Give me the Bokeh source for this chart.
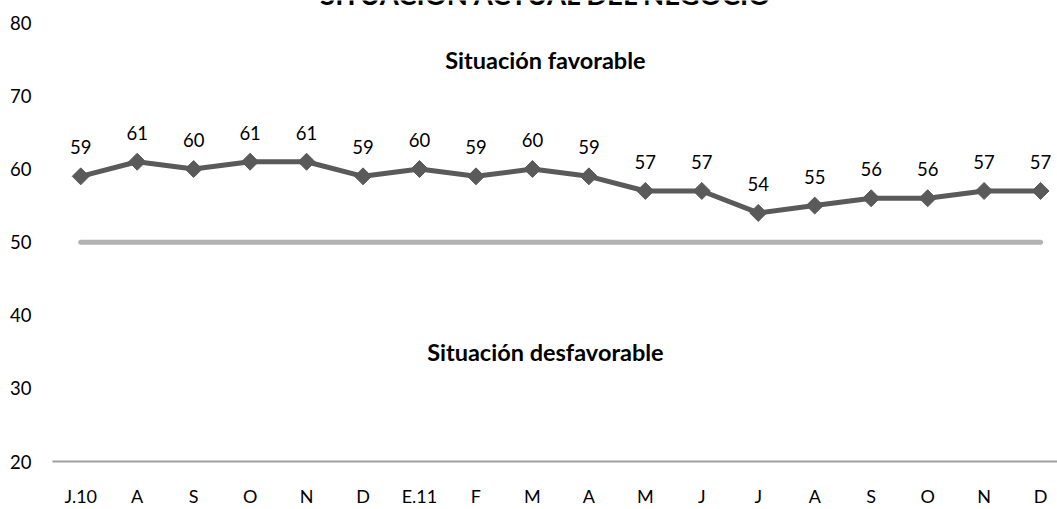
from bokeh.plotting import figure
from bokeh.models import FixedTicker, Label, Range1d
from bokeh.core.properties import value
from bokeh.embed import file_html
from bokeh.resources import INLINE
import math

months = ["J.10", "A", "S", "O", "N", "D", "E.11", "F", "M", "A", "M", "J", "J", "A", "S", "O", "N", "D"]
values = [59, 61, 60, 61, 61, 59, 60, 59, 60, 59, 57, 57, 54, 55, 56, 56, 57, 57]
threshold = 50
y_ticks = [20, 30, 40, 50, 60, 70, 80]
title_text = "SITUACIÓN ACTUAL DEL NEGOCIO"
upper_text = "Situación favorable"
lower_text = "Situación desfavorable"

FONT = "Lato"
xs = list(range(len(months)))

# frame reaches the canvas top so the (cut-off) title can be drawn inside it
p = figure(width=1057, height=509, output_backend="svg", toolbar_location=None,
           x_range=Range1d(-0.5, 17.30), y_range=Range1d(20, 83.05),
           min_border_left=52, min_border_right=0, min_border_top=0, min_border_bottom=44)
p.outline_line_color = None
p.grid.grid_line_color = None
p.background_fill_color = "white"
p.border_fill_color = "white"

# x axis
p.xaxis.ticker = FixedTicker(ticks=xs)
p.xaxis.major_label_overrides = {i: m for i, m in enumerate(months)}
p.xaxis.major_tick_line_color = None
p.xaxis.minor_tick_line_color = None
p.xaxis.axis_line_color = "#a0a0a0"
p.xaxis.axis_line_width = 2
p.xaxis.major_label_text_font = FONT
p.xaxis.major_label_text_font_size = "18px"
p.xaxis.major_label_text_color = "#000000"
p.xaxis.major_label_standoff = 17

# y axis
p.yaxis.ticker = FixedTicker(ticks=y_ticks)
p.yaxis.axis_line_color = None
p.yaxis.major_tick_line_color = None
p.yaxis.minor_tick_line_color = None
p.yaxis.major_label_text_font = FONT
p.yaxis.major_label_text_font_size = "18.5px"
p.yaxis.major_label_text_color = "#000000"
p.yaxis.major_label_standoff = 15

# threshold line
p.line([xs[0], xs[-1]], [threshold, threshold], line_color="#b3b3b3", line_width=5, line_cap="round")

# main series
p.line(xs, values, line_color="#5a5a5a", line_width=5)
p.scatter(xs, values, marker="square", angle=math.pi / 4, size=12,
          fill_color="#5a5a5a", line_color="#5a5a5a", line_width=1)

# data labels
p.text(xs, values, text=[str(v) for v in values], text_font=value(FONT),
       text_font_size="18.5px", text_align="center", text_baseline="middle",
       text_color="#000000", y_offset=-29)

# region annotations
p.add_layout(Label(x=8.23, y=74.9, text=upper_text, text_font=FONT, text_font_size="23.5px",
                   text_font_style="bold", text_align="center", text_baseline="middle",
                   text_color="#000000"))
p.add_layout(Label(x=8.23, y=35.0, text=lower_text, text_font=FONT, text_font_size="23.5px",
                   text_font_style="bold", text_align="center", text_baseline="middle",
                   text_color="#000000"))

# title (mostly cut off at top, as in the reference)
p.add_layout(Label(x=8.25, y=83.9, text=title_text, text_font=FONT, text_font_size="27.5px",
                   text_font_style="bold", text_align="center", text_baseline="alphabetic",
                   text_color="#000000"))

open("out.html", "w").write(file_html(p, INLINE))
